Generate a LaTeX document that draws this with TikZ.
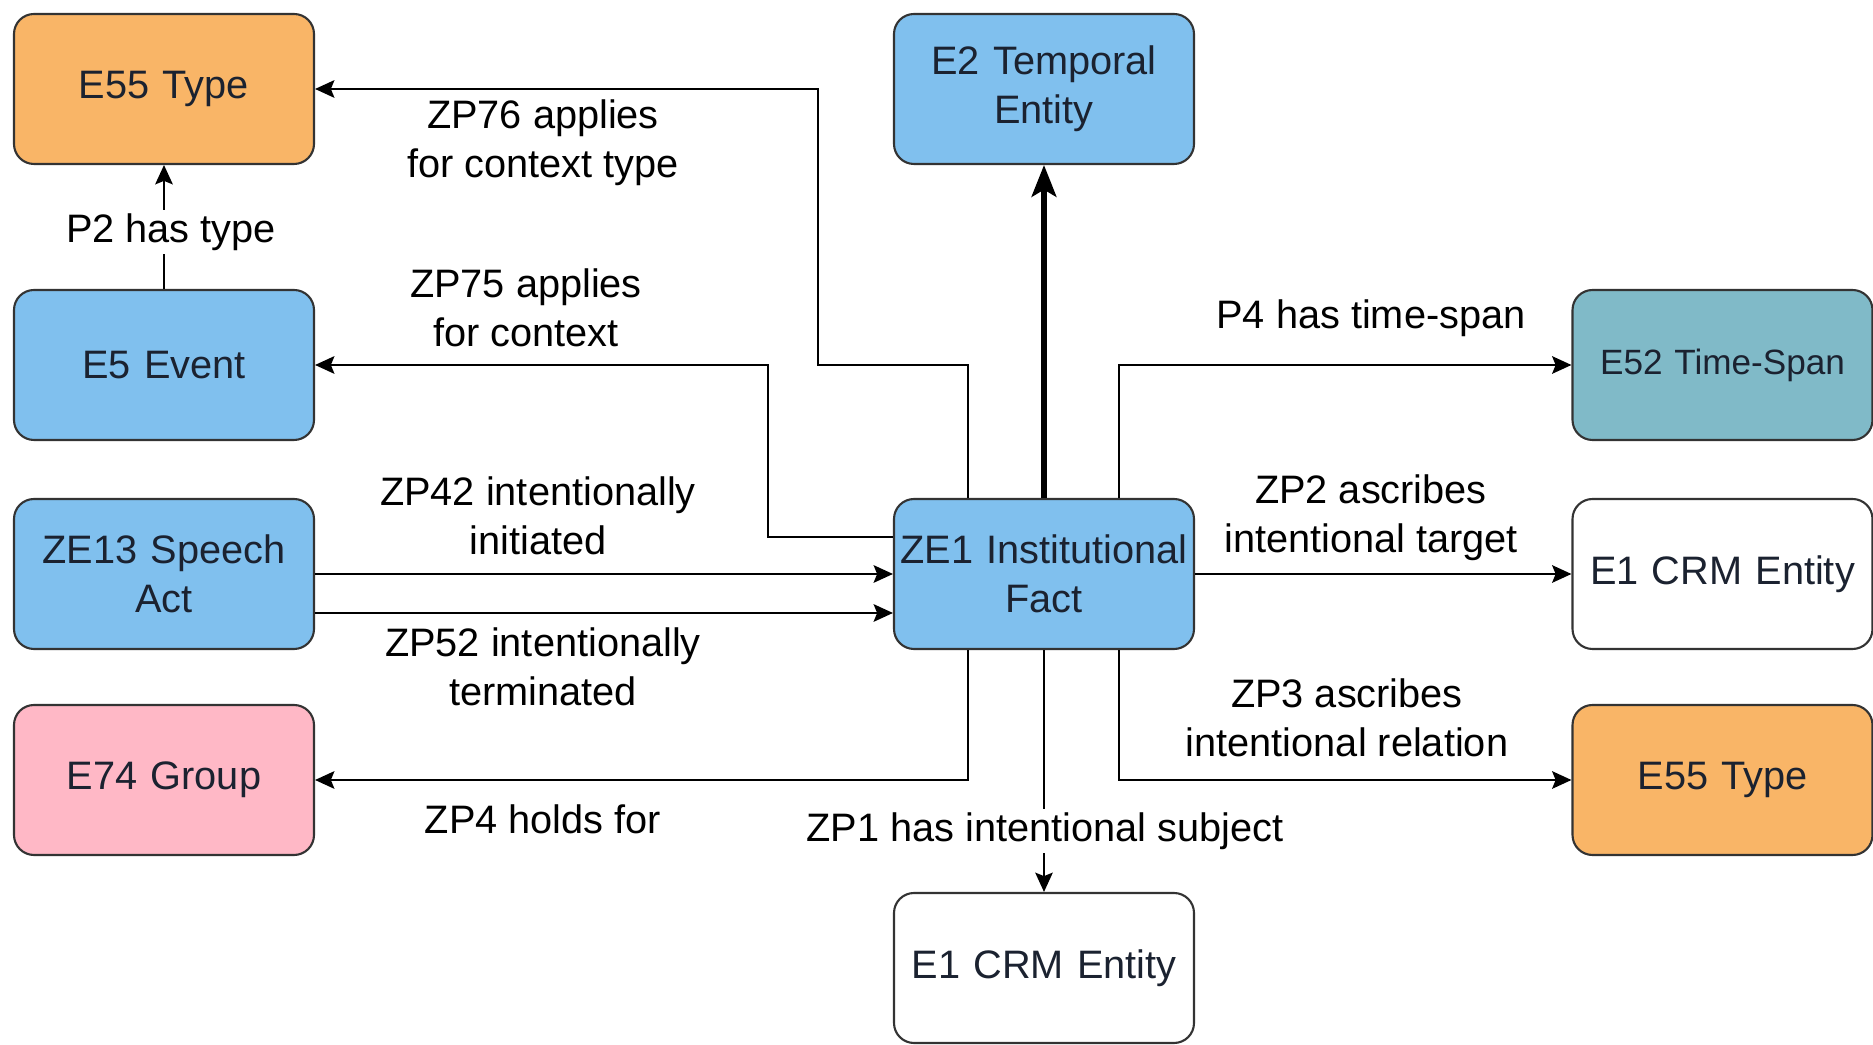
\documentclass[tikz,border=0pt]{standalone}
\usepackage{fontspec}
\setmainfont{Liberation Sans}
\usepackage{tikz}
\usetikzlibrary{positioning}
\usetikzlibrary{arrows.meta}
\usepackage{xcolor}

\definecolor{typeorange}{HTML}{F9B567}
\definecolor{entblue}{HTML}{80C0EE}
\definecolor{spanteal}{HTML}{80BAC8}
\definecolor{grouppink}{HTML}{FFB8C6}
\definecolor{inktext}{HTML}{1B2230}

\begin{document}
\begin{tikzpicture}[
  font=\fontsize{11.3}{13.9}\selectfont,
  box/.style={draw=black!80, line width=0.6pt, rounded corners=0.2cm, minimum width=3cm, minimum height=1.5cm, align=center, text width=2.95cm, inner sep=0pt, text=inktext},
  lbl/.style={align=center, text=black},
  arr/.style={line width=0.6pt, -{Stealth[length=5.5pt,width=5pt,inset=1pt]}},
  bigarr/.style={line width=1.6pt, -{Stealth[length=9pt,width=7pt,inset=2pt]}}
]

\useasboundingbox (0,0) rectangle (18.73,10.45);

% left column
\node[box, fill=typeorange] (e55) at (1.64,9.56) {E55 Type};
\node[box, fill=entblue] (e5) at (1.64,6.80) {E5 Event};
\node[box, fill=entblue] (ze13) at (1.64,4.71) {ZE13 Speech\\Act};
\node[box, fill=grouppink] (e74) at (1.64,2.65) {E74 Group};

% middle column
\node[box, fill=entblue] (e2) at (10.44,9.56) {E2 Temporal\\Entity};
\node[box, fill=entblue] (ze1) at (10.44,4.71) {ZE1 Institutional\\Fact};
\node[box, fill=white] (e1sub) at (10.44,0.77) {E1 CRM Entity};

% right column
\node[box, fill=spanteal, font=\fontsize{10}{12}\selectfont] (e52) at (17.225,6.80) {E52 Time-Span};
\node[box, fill=white] (e1tgt) at (17.225,4.71) {E1 CRM Entity};
\node[box, fill=typeorange] (e55r) at (17.225,2.65) {E55 Type};

% connectors
\draw[arr] (e5.north) -- (e55.south);
\draw[arr] ([xshift=-7.6mm]ze1.north) |- (8.18,6.80) |- (e55.east);
\draw[arr] ([yshift=3.7mm]ze1.west) -| (7.68,6.80) -- (e5.east);
\draw[arr] (ze13.east) -- (ze1.west);
\draw[arr] ([yshift=-3.9mm]ze13.east) -- ([yshift=-3.9mm]ze1.west);
\draw[arr] ([xshift=-7.6mm]ze1.south) |- (e74.east);
\draw[bigarr] (ze1.north) -- (e2.south);
\draw[arr] ([xshift=7.5mm]ze1.north) |- (e52.west);
\draw[arr] (ze1.east) -- (e1tgt.west);
\draw[arr] ([xshift=7.5mm]ze1.south) |- (e55r.west);
\draw[arr, line width=0.4pt] (ze1.south) -- (e1sub.north);

% labels
\node[lbl, fill=white, inner sep=1pt] (lp2) at (1.71,8.13) {P2 has type};
\node[lbl] (lzp76) at (5.43,9.02) {ZP76 applies\\for context type};
\node[lbl] (lzp75) at (5.26,7.37) {ZP75 applies\\for context};
\node[lbl] (lzp42) at (5.38,5.29) {ZP42 intentionally\\initiated};
\node[lbl] (lzp52) at (5.43,3.78) {ZP52 intentionally\\terminated};
\node[lbl] (lzp4) at (5.43,2.26) {ZP4 holds for};
\node[lbl, fill=white, inner sep=1pt] (lzp1) at (10.45,2.14) {ZP1 has intentional subject};
\node[lbl] (lp4) at (13.71,7.27) {P4 has time-span};
\node[lbl] (lzp2) at (13.71,5.27) {ZP2 ascribes\\intentional target};
\node[lbl] (lzp3) at (13.47,3.27) {ZP3 ascribes\\intentional relation};

\end{tikzpicture}
\end{document}
